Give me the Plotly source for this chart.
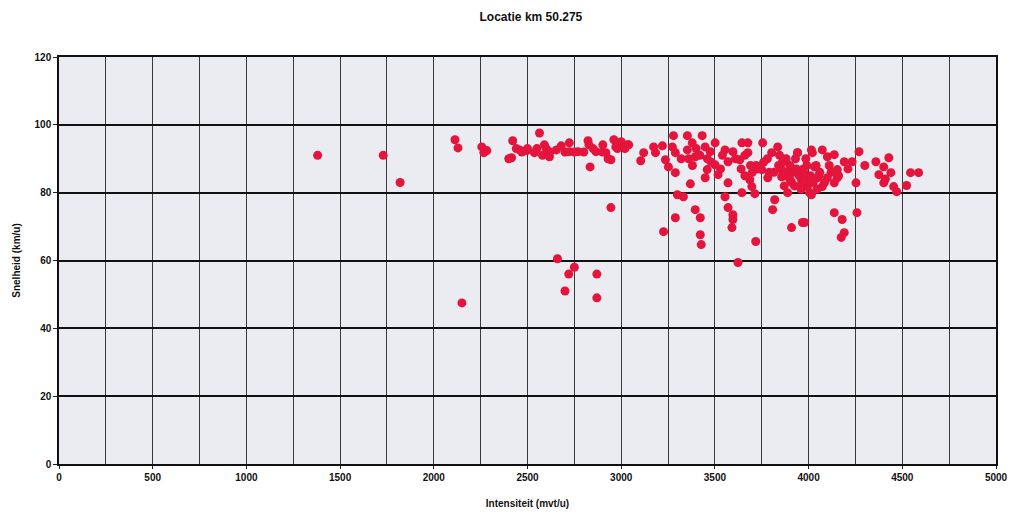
import plotly.graph_objects as go

# Intensiteit (mvt/u) en snelheid (km/u) per meetinterval
intensiteit = [
    1380, 1730, 1820, 2150, 2660, 2700, 2720, 2750, 2870, 2870, 2945,
    2113, 2129, 2256, 2267, 2283, 2421, 2415, 2458, 2495, 2564, 2537,
    2590, 2617, 2654, 2680, 2723, 2723, 2770, 2823, 2828, 2834, 2865,
    2902, 2918, 2945, 2961, 2971, 3035,
    2400, 2440, 2470, 2500, 2550, 2580, 2600, 2620, 2700, 2750, 2800,
    2850, 2900, 2930, 2980, 3000, 3020,
    3040, 3104, 3120, 3173, 3183, 3220, 3236, 3252, 3273, 3279, 3289,
    3289, 3300, 3332, 3289, 3226, 3353, 3353, 3369, 3379, 3395, 3432,
    3448, 3395, 3422, 3422, 3427, 3459, 3448, 3475, 3501, 3501, 3517,
    3554, 3570, 3570, 3554, 3570, 3596, 3596, 3591, 3623, 3596, 3644,
    3644, 3633, 3676, 3676, 3686, 3697, 3713, 3718, 3755, 3750, 3803,
    3782, 3819, 3808, 3835, 3856, 3856, 3888, 3909, 3941, 3967,
    3941, 4015, 4020, 4073, 4100, 4137, 4190, 4232, 4269, 4031, 3967,
    3962, 4047, 4100, 4153, 4153, 3994, 4015, 4073, 4137, 4253, 4258,
    4137, 4179, 4190, 4174, 3978, 4359, 4428, 4401, 4439, 4375, 4401,
    4454, 4470, 4523, 4544, 4587,
    3880, 3900, 3920, 3950, 3980, 4000, 3990, 3930, 3860, 3900, 3960,
    4010, 4040, 3870, 3840, 3780, 3760, 3720, 3700, 3640,
    3320, 3380, 3420, 3480, 3530, 3610, 3660, 3730, 3790, 4060, 4110,
    4160, 4210, 4300, 4410,
    3890, 3910, 3935, 3955, 3975, 4005, 4025, 4055, 4085, 4120, 3870,
    3925, 3985, 4045, 3845, 3815, 3690, 3660, 3540, 3460, 3400, 3360,
]
snelheid = [
    91.0, 91.0, 83.0, 47.5, 60.5, 51.0, 56.0, 58.0, 56.0, 49.0, 75.6,
    95.6, 93.2, 93.5, 91.8, 92.4, 95.3, 90.3, 92.6, 92.4, 97.6, 91.8,
    94.1, 90.6, 92.6, 93.8, 94.7, 92.1, 92.1, 95.3, 94.1, 87.6, 92.1,
    94.1, 91.8, 89.7, 95.6, 93.5, 94.1,
    90.0, 93.0, 92.0, 93.0, 93.0, 91.0, 93.0, 92.0, 92.0, 92.0, 92.0,
    93.0, 92.0, 90.0, 93.0, 95.0, 93.0,
    94.1, 89.4, 91.8, 93.5, 91.8, 93.8, 89.7, 87.6, 93.5, 96.8, 91.8,
    85.9, 79.4, 78.8, 72.6, 68.5, 96.8, 92.6, 82.6, 94.7, 90.6, 96.8,
    93.5, 75.0, 72.6, 67.6, 64.7, 86.8, 84.4, 92.1, 94.7, 88.2, 85.3,
    92.6, 89.1, 82.9, 78.8, 75.6, 73.5, 72.1, 69.7, 59.4, 92.1, 94.7,
    80.0, 89.7, 94.7, 91.8, 83.8, 81.8, 79.7, 65.6, 94.7, 86.8, 91.8,
    84.4, 77.9, 75.0, 93.5, 86.8, 84.7, 80.0, 69.7, 91.8, 71.2,
    91.8, 92.6, 91.8, 92.6, 90.6, 91.2, 89.1, 89.1, 92.1, 87.6, 86.8,
    83.8, 84.4, 84.4, 86.8, 84.4, 81.8, 79.4, 81.8, 82.9, 82.9, 74.1,
    74.1, 72.1, 68.2, 66.8, 71.2, 89.1, 90.3, 87.6, 85.9, 85.3, 82.9,
    81.8, 80.3, 82.1, 85.9, 85.9,
    90.0, 88.0, 86.0, 85.0, 84.0, 83.0, 88.0, 90.0, 89.0, 84.0, 81.0,
    85.0, 88.0, 82.0, 88.0, 90.0, 89.0, 88.0, 86.0, 87.0,
    90.0, 88.0, 91.0, 89.0, 87.0, 90.0, 85.0, 87.0, 86.0, 86.0, 88.0,
    85.0, 87.0, 88.0, 84.0,
    86.0, 83.0, 87.0, 82.0, 86.0, 80.0, 83.0, 85.0, 83.0, 86.0, 85.0,
    82.0, 90.0, 81.0, 91.0, 86.0, 88.0, 91.0, 91.0, 90.0, 93.0, 90.0,
]

x_ticks = [0, 500, 1000, 1500, 2000, 2500, 3000, 3500, 4000, 4500, 5000]
y_ticks = [0, 20, 40, 60, 80, 100, 120]

FONT = "Liberation Sans, Arial, sans-serif"

fig = go.Figure()
fig.add_trace(go.Scatter(
    x=intensiteit, y=snelheid, mode="markers",
    marker=dict(symbol="circle", size=9, color="#E4143C", line=dict(width=0)),
    hoverinfo="x+y", showlegend=False,
))

fig.update_layout(
    width=1020, height=520,
    margin=dict(l=59, r=17, t=57, b=55),
    paper_bgcolor="#FFFFFF",
    plot_bgcolor="#EBECF1",
    font=dict(family=FONT, size=10, color="#111111", weight="bold"),
    title=dict(text="Locatie km 50.275", x=0.5205, xanchor="center",
               y=0.967, yanchor="middle",
               font=dict(family=FONT, size=12, color="#111111", weight="bold")),
    xaxis=dict(
        range=[0, 5000], tickvals=x_ticks, ticktext=[str(v) for v in x_ticks],
        showgrid=True, gridcolor="#3A3A3A", gridwidth=1,
        minor=dict(dtick=250, showgrid=True, gridcolor="#3A3A3A", gridwidth=1),
        ticks="outside", ticklen=3, tickcolor="#222222",
        showline=True, linecolor="#111111", linewidth=1.5, mirror=True,
        zeroline=False,
        tickfont=dict(family=FONT, size=10, weight="bold"),
        title=dict(text="Intensiteit (mvt/u)", standoff=18,
                   font=dict(family=FONT, size=10, weight="bold")),
    ),
    yaxis=dict(
        range=[0, 120], tickvals=y_ticks, ticktext=[str(v) for v in y_ticks],
        showgrid=True, gridcolor="#111111", gridwidth=1.5,
        ticks="outside", ticklen=4, tickcolor="#222222",
        showline=True, linecolor="#111111", linewidth=1.5, mirror=True,
        zeroline=False,
        tickfont=dict(family=FONT, size=10, weight="bold"),
        title=dict(text="Snelheid (km/u)", standoff=12,
                   font=dict(family=FONT, size=10, weight="bold")),
    ),
)

fig.write_html("out.html")
